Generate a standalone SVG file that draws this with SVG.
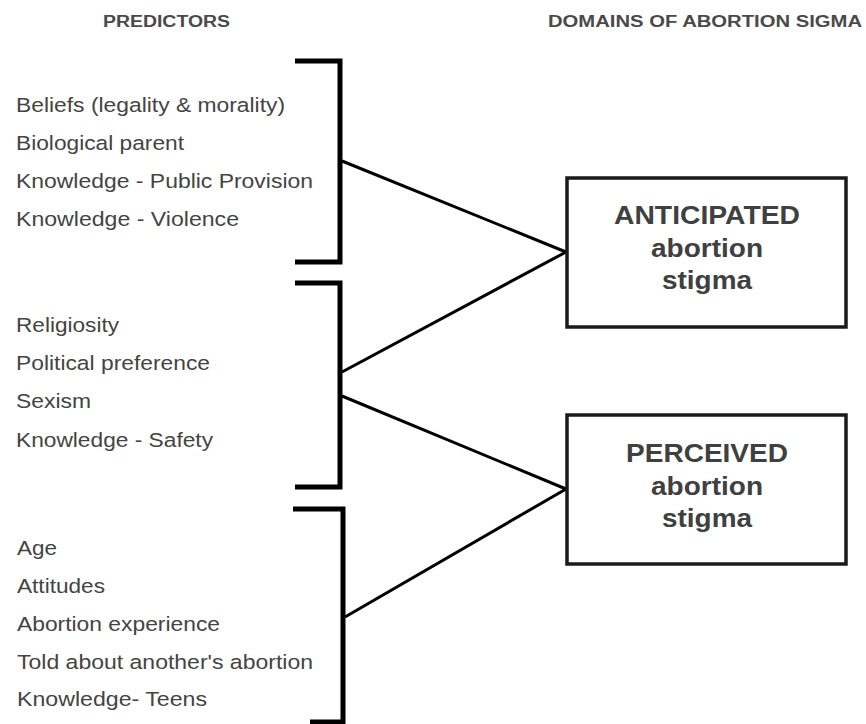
<svg xmlns="http://www.w3.org/2000/svg" width="866" height="724" viewBox="0 0 866 724">
<style>
.hdr{font-family:"Liberation Sans",Arial,sans-serif;font-weight:bold;font-size:16px;fill:#4a4a4a}
.lbl{font-family:"Liberation Sans",Arial,sans-serif;font-size:20.5px;fill:#444}
.box{fill:#fff;stroke:#1a1a1a;stroke-width:3.5}
.bt{font-family:"Liberation Sans",Arial,sans-serif;font-weight:bold;font-size:26px;fill:#404040;text-anchor:middle}
.br{fill:none;stroke:#000;stroke-width:5;stroke-linejoin:miter}
.ln{fill:none;stroke:#000;stroke-width:3}
</style>
<rect width="866" height="724" fill="#fff"/>
<g id="headers">
<text class="hdr" x="103" y="27" textLength="127" lengthAdjust="spacingAndGlyphs">PREDICTORS</text>
<text class="hdr" x="548" y="27" textLength="314" lengthAdjust="spacingAndGlyphs">DOMAINS OF ABORTION SIGMA</text>
</g>
<g id="group1">
<path class="br" d="M295,61 H340 V262 H295"/>
<text class="lbl" x="16" y="112" textLength="269" lengthAdjust="spacingAndGlyphs">Beliefs (legality &amp; morality)</text>
<text class="lbl" x="16" y="150" textLength="168" lengthAdjust="spacingAndGlyphs">Biological parent</text>
<text class="lbl" x="16" y="188" textLength="297" lengthAdjust="spacingAndGlyphs">Knowledge - Public Provision</text>
<text class="lbl" x="16" y="226" textLength="223" lengthAdjust="spacingAndGlyphs">Knowledge - Violence</text>
</g>
<g id="group2">
<path class="br" d="M295,283 H340 V487 H295"/>
<text class="lbl" x="16" y="332" textLength="103" lengthAdjust="spacingAndGlyphs">Religiosity</text>
<text class="lbl" x="16" y="370" textLength="194" lengthAdjust="spacingAndGlyphs">Political preference</text>
<text class="lbl" x="16" y="408" textLength="75" lengthAdjust="spacingAndGlyphs">Sexism</text>
<text class="lbl" x="16" y="447" textLength="197" lengthAdjust="spacingAndGlyphs">Knowledge - Safety</text>
</g>
<g id="group3">
<path class="br" d="M293,509 H343 V722 H310"/>
<text class="lbl" x="17" y="555" textLength="40" lengthAdjust="spacingAndGlyphs">Age</text>
<text class="lbl" x="17" y="593" textLength="88" lengthAdjust="spacingAndGlyphs">Attitudes</text>
<text class="lbl" x="17" y="631" textLength="203" lengthAdjust="spacingAndGlyphs">Abortion experience</text>
<text class="lbl" x="17" y="669" textLength="296" lengthAdjust="spacingAndGlyphs">Told about another's abortion</text>
<text class="lbl" x="17" y="706" textLength="190" lengthAdjust="spacingAndGlyphs">Knowledge- Teens</text>
</g>
<g id="connectors">
<line class="ln" x1="342" y1="161" x2="566" y2="252"/>
<line class="ln" x1="342" y1="372" x2="566" y2="252"/>
<line class="ln" x1="342" y1="396" x2="566" y2="489"/>
<line class="ln" x1="345" y1="617" x2="566" y2="489"/>
</g>
<g id="anticipated">
<rect class="box" x="567" y="178" width="279" height="149"/>
<text class="bt" x="707" y="224" textLength="186" lengthAdjust="spacingAndGlyphs">ANTICIPATED</text>
<text class="bt" x="707" y="257" textLength="112" lengthAdjust="spacingAndGlyphs">abortion</text>
<text class="bt" x="707" y="289" textLength="90" lengthAdjust="spacingAndGlyphs">stigma</text>
</g>
<g id="perceived">
<rect class="box" x="567" y="415" width="279" height="149"/>
<text class="bt" x="707" y="462" textLength="162" lengthAdjust="spacingAndGlyphs">PERCEIVED</text>
<text class="bt" x="707" y="495" textLength="112" lengthAdjust="spacingAndGlyphs">abortion</text>
<text class="bt" x="707" y="527" textLength="90" lengthAdjust="spacingAndGlyphs">stigma</text>
</g>
</svg>
